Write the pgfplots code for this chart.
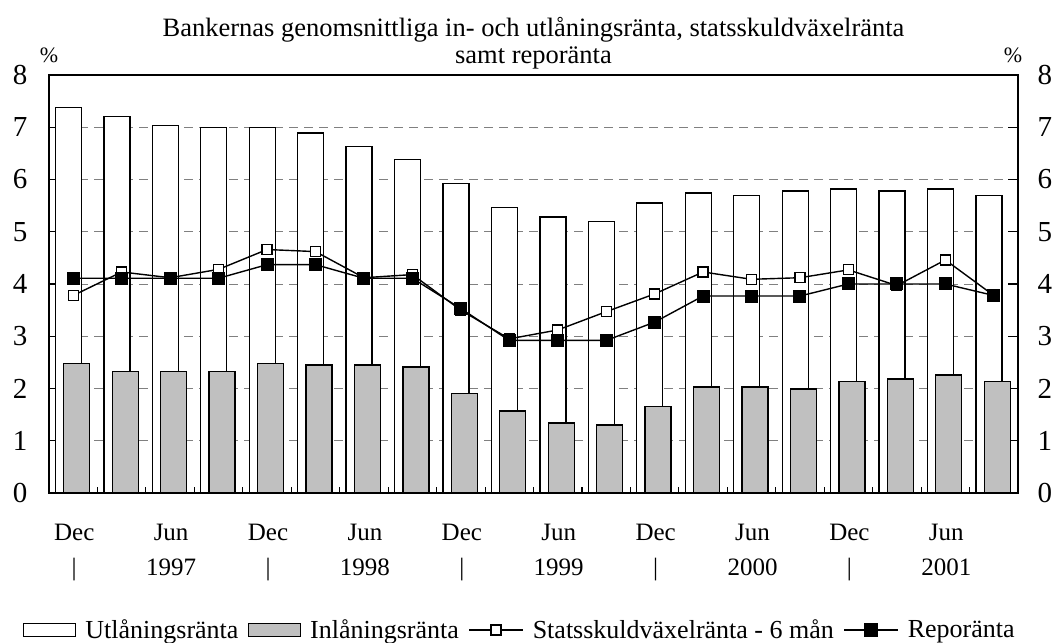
\documentclass[border=0pt]{standalone}
\usepackage{fontspec}
\setmainfont{Liberation Serif}
\usepackage{pgfplots}
\pgfplotsset{compat=1.18}
\definecolor{barg}{HTML}{C0C0C0}
\begin{document}
\begin{tikzpicture}
\begin{axis}[
  scale only axis, width=969pt, height=418pt,
  xmin=-0.5, xmax=19.5, ymin=0, ymax=8,
  clip mode=individual,
  /pgf/number format/assume math mode=true,
  axis line style={line width=1.2pt, black},
  ytick={0,...,8}, ymajorgrids,
  major grid style={dash pattern=on 9pt off 6pt, gray, line width=0.9pt},
  tick align=inside, ytick pos=both, xtick pos=lower,
  major tick length=10pt, minor tick length=6pt,
  tick style={line width=1.1pt, black},
  major x tick style={draw=none},
  xtick={0,2,...,18},
  minor xtick={0.5,1.5,...,18.5},
  xticklabels={Dec\\|, Jun\\1997, Dec\\|, Jun\\1998, Dec\\|, Jun\\1999, Dec\\|, Jun\\2000, Dec\\|, Jun\\2001},
  x tick label style={align=center, font=\fontsize{25}{35}\selectfont, yshift=-28pt, xshift=1pt},
  y tick label style={font=\fontsize{29}{31}\selectfont, xshift=-18pt},
  yticklabel pos=left,
  legend columns=-1,
  legend style={draw=none, fill=none, at={(axis description cs:0,0)}, anchor=west,
    xshift=-29pt, yshift=-137pt, font=\fontsize{26}{28}\selectfont,
    /tikz/every odd column/.append style={column sep=7pt},
    /tikz/every even column/.append style={column sep=7.5pt}},
]
\coordinate (sw) at (rel axis cs:0,0);
\coordinate (ne) at (rel axis cs:1,1);
\addplot[ybar, bar width=26pt, bar shift=-4.8pt, fill=white, draw=black, line width=1.3pt,
  legend image code/.code={\draw[fill=white, draw=black, line width=1.2pt] (0pt,-6.5pt) rectangle (52pt,6.5pt);}]
  coordinates {(0,7.38) (1,7.20) (2,7.04) (3,7.00) (4,7.00) (5,6.89) (6,6.63) (7,6.38) (8,5.93) (9,5.46)
  (10,5.28) (11,5.20) (12,5.55) (13,5.74) (14,5.70) (15,5.78) (16,5.82) (17,5.78) (18,5.82) (19,5.70)};
\addlegendentry{Utlåningsränta}
\addplot[ybar, bar width=26pt, bar shift=3.5pt, fill=barg, draw=black, line width=1.3pt,
  legend image code/.code={\draw[fill=barg, draw=black, line width=1.2pt] (0pt,-6.5pt) rectangle (52pt,6.5pt);}]
  coordinates {(0,2.48) (1,2.33) (2,2.33) (3,2.33) (4,2.48) (5,2.45) (6,2.45) (7,2.41) (8,1.91) (9,1.57)
  (10,1.34) (11,1.30) (12,1.65) (13,2.03) (14,2.03) (15,1.99) (16,2.14) (17,2.18) (18,2.26) (19,2.14)};
\addlegendentry{Inlåningsränta}
\addplot[black, line width=1.4pt, mark=square*, mark size=5pt, mark options={fill=white, line width=1.2pt},
  legend image code/.code={\draw[black, line width=1.4pt] (0pt,0pt) -- (54pt,0pt);
    \draw[black, fill=white, line width=1.2pt] (22pt,-5pt) rectangle (32pt,5pt);}]
  coordinates {(0,3.78) (1,4.23) (2,4.12) (3,4.28) (4,4.66) (5,4.62) (6,4.12) (7,4.18) (8,3.50) (9,2.95)
  (10,3.12) (11,3.47) (12,3.81) (13,4.23) (14,4.09) (15,4.12) (16,4.27) (17,3.97) (18,4.46) (19,3.78)};
\addlegendentry{Statsskuldväxelränta - 6 mån}
\addplot[black, line width=1.4pt, mark=square*, mark size=5.8pt, mark options={fill=black},
  legend image code/.code={\draw[black, line width=1.4pt] (0pt,0pt) -- (54pt,0pt);
    \fill[black] (21pt,-6pt) rectangle (33pt,6pt);}]
  coordinates {(0,4.11) (1,4.11) (2,4.11) (3,4.11) (4,4.37) (5,4.37) (6,4.11) (7,4.11) (8,3.53) (9,2.92)
  (10,2.92) (11,2.92) (12,3.27) (13,3.77) (14,3.77) (15,3.77) (16,4.00) (17,4.00) (18,4.00) (19,3.78)};
\addlegendentry{Reporänta}
\node[font=\fontsize{22}{24}\selectfont] at (rel axis cs:0,1) [yshift=20pt] {\%};
\node[font=\fontsize{22}{24}\selectfont] at (rel axis cs:1,1) [yshift=20pt, xshift=-5pt] {\%};
\node[anchor=south, align=center, font=\fontsize{26.5}{27}\selectfont] at (rel axis cs:0.5,1) [yshift=2pt]
  {Bankernas genomsnittliga in- och utlåningsränta, statsskuldväxelränta\\samt reporänta};
\end{axis}
\begin{axis}[
  scale only axis, width=969pt, height=418pt,
  xmin=-0.5, xmax=19.5, ymin=0, ymax=8,
  /pgf/number format/assume math mode=true,
  hide x axis, axis y line*=right,
  y axis line style={draw=none},
  ytick={0,...,8}, ytick style={draw=none},
  yticklabel pos=right,
  y tick label style={font=\fontsize{29}{31}\selectfont, xshift=16pt},
]
\end{axis}
\pgfresetboundingbox
\path ([shift={(-49pt,-150pt)}]sw) rectangle ([shift={(41pt,75pt)}]ne);
\end{tikzpicture}
\end{document}
